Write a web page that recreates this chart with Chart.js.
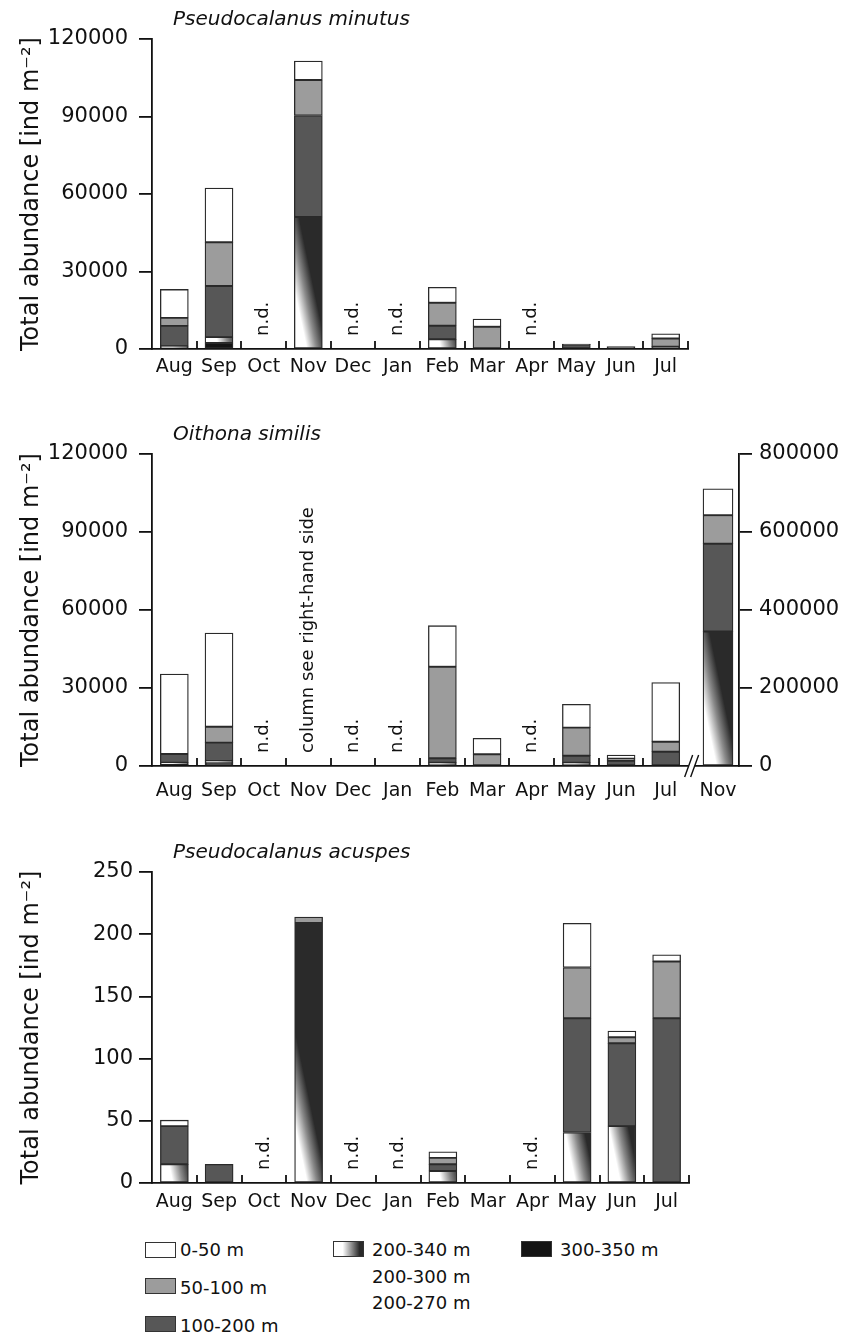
<!DOCTYPE html>
<html>
<head>
<meta charset="utf-8">
<script src="https://cdn.jsdelivr.net/npm/chart.js@4.4.0/dist/chart.umd.min.js"></script>
<style>
  body { margin: 0; background: #fff; width: 860px; height: 1335px; position: relative; overflow: hidden; font-family: "DejaVu Sans", sans-serif; color: #111; }
  .panel { position: absolute; left: 0; width: 860px; }
  .lg { position: absolute; font-size: 18px; line-height: 18px; white-space: nowrap; }
  .sw { position: absolute; width: 31px; height: 16px; box-sizing: border-box; border: 1px solid #333; }
</style>
</head>
<body>
<div class="panel" style="top:0;height:390px"><canvas id="minutus"></canvas></div>
<div class="panel" style="top:400px;height:400px"><canvas id="similis"></canvas></div>
<div class="panel" style="top:820px;height:400px"><canvas id="acuspes"></canvas></div>

<div class="sw" style="left:145px;top:1242px;background:#fff"></div>
<div class="lg" style="left:180px;top:1241px">0-50 m</div>
<div class="sw" style="left:145px;top:1278px;background:#9c9c9c"></div>
<div class="lg" style="left:180px;top:1279px">50-100 m</div>
<div class="sw" style="left:145px;top:1316px;background:#575757"></div>
<div class="lg" style="left:180px;top:1317px">100-200 m</div>
<div class="sw" style="left:333px;top:1241px;background:linear-gradient(to right,#fff 30%,#2a2a2a 88%)"></div>
<div class="lg" style="left:372px;top:1241px">200-340 m</div>
<div class="lg" style="left:372px;top:1268px">200-300 m</div>
<div class="lg" style="left:372px;top:1294px">200-270 m</div>
<div class="sw" style="left:521px;top:1241px;background:#141414"></div>
<div class="lg" style="left:560px;top:1241px">300-350 m</div>

<script>
const months = ['Aug', 'Sep', 'Oct', 'Nov', 'Dec', 'Jan', 'Feb', 'Mar', 'Apr', 'May', 'Jun', 'Jul'];
const ndMonths = ['Oct', 'Dec', 'Jan', 'Apr'];

// Pseudocalanus minutus, ind m-2 per depth layer (null = n.d.)
const minutus300_350 = [400, 2300, null, 0, null, null, 0, 0, null, 0, 0, 0];
const minutus200_340 = [700, 2300, null, 51100, null, null, 3750, 0, null, 0, 0, 0];
const minutus100_200 = [7850, 19800, null, 39300, null, null, 5250, 0, null, 1700, 900, 900];
const minutus50_100 = [3100, 16900, null, 13700, null, null, 8900, 8600, null, 200, 0, 3200];
const minutus0_50 = [11000, 21000, null, 7400, null, null, 6000, 3000, null, 0, 0, 1800];

// Oithona similis, left axis (Nov is drawn on the right-hand axis)
const similis300_350 = [500, 1200, null, null, null, null, 0, 0, null, 0, 0, 0];
const similis200_340 = [800, 800, null, null, null, null, 1270, 0, null, 1270, 0, 0];
const similis100_200 = [3300, 7000, null, null, null, null, 1700, 0, null, 2700, 2000, 5500];
const similis50_100 = [0, 6100, null, null, null, null, 35200, 4500, null, 10800, 800, 3850];
const similis0_50 = [30800, 36000, null, null, null, null, 15800, 6150, null, 8950, 1400, 22750];
// Oithona similis November, right axis, bottom layer first
const similisNov = [0, 344700, 225300, 73000, 68000];
const similisLabels = months.concat(['Nov']);

// Pseudocalanus acuspes
const acuspes300_350 = [0, 0, null, 0, null, null, 0, 0, null, 0, 0, 0];
const acuspes200_340 = [15, 0, null, 209, null, null, 9.7, 0, null, 40.6, 45.7, 0];
const acuspes100_200 = [30.7, 15, null, 0, null, null, 5.3, 0, null, 91.8, 66.6, 132.4];
const acuspes50_100 = [0, 0, null, 4.8, null, null, 5.2, 0, null, 40.8, 4.8, 45.6];
const acuspes0_50 = [4.8, 0, null, 0, null, null, 4.8, 0, null, 35.5, 5.1, 5.4];

const INK = '#111';
const EDGE = '#2a2a2a';
const FONT = '"DejaVu Sans"';
const NOV_SLOT = 12.17;   // where the extra November column sits on the similis x axis

// white → dark shading of the 200-340 m layer; isolines lean steeply (slope 4.8)
function depthShade(c) {
  const chart = c.chart;
  if (c.type !== 'data' || !chart.chartArea) return '#2a2a2a';
  const ds = chart.data.datasets[c.datasetIndex];
  const val = p => (p && typeof p === 'object') ? p.y : p;
  let base = 0;
  chart.data.datasets.forEach((d, k) => {
    if (k < c.datasetIndex && d.yAxisID === ds.yAxisID) base += val(d.data[c.dataIndex]) || 0;
  });
  const xv = (c.raw && typeof c.raw === 'object') ? c.raw.x : c.dataIndex;
  const w = ds.barThickness;
  const L = chart.scales.x.getPixelForValue(xv) - w / 2;
  const B = chart.scales[ds.yAxisID].getPixelForValue(base);
  const s = 4.8, n = Math.sqrt(s * s + 1);
  const k = s / n, gx = s / n, gy = -1 / n;
  const t0 = 0.45 * w * k, t1 = 1.15 * w * k;
  const g = chart.ctx.createLinearGradient(L + gx * t0, B + gy * t0, L + gx * t1, B + gy * t1);
  g.addColorStop(0, '#ffffff');
  g.addColorStop(0.5, '#8a8a8a');
  g.addColorStop(1, '#2a2a2a');
  return g;
}

const layerNames = ['300-350 m', '200-340 m', '100-200 m', '50-100 m', '0-50 m'];
const layerFills = ['#141414', depthShade, '#575757', '#9c9c9c', '#ffffff'];

function stackSets(series, yAxisID, toPoint, thickness) {
  return series.map((arr, k) => ({
    label: layerNames[k],
    data: arr.map(toPoint),
    yAxisID: yAxisID,
    backgroundColor: layerFills[k],
    borderColor: EDGE,
    borderWidth: 1.3,
    borderSkipped: false,
    barThickness: thickness,
    grouped: false
  }));
}

const panelDeco = {
  id: 'panelDeco',
  afterDraw(chart, args, o) {
    const {ctx, chartArea: a, scales: {x}} = chart;
    ctx.save();
    ctx.fillStyle = INK;
    ctx.strokeStyle = INK;
    ctx.font = 'italic 20px ' + FONT;
    ctx.textAlign = 'left';
    ctx.textBaseline = 'middle';
    ctx.fillText(o.title, 173, o.titleY);

    // short inward ticks between months
    ctx.lineWidth = 1.8;
    ctx.beginPath();
    for (let i = 0; i < o.tickCount; i++) {
      const px = Math.round(x.getPixelForValue(i + 0.5));
      ctx.moveTo(px, a.bottom);
      ctx.lineTo(px, a.bottom - 8);
    }
    ctx.stroke();

    ctx.font = '18px ' + FONT;
    const vertical = (text, px) => {
      ctx.save();
      ctx.translate(px, a.bottom - 13);
      ctx.rotate(-Math.PI / 2);
      ctx.fillText(text, 0, 0);
      ctx.restore();
    };
    ndMonths.forEach(m => vertical('n.d.', x.getPixelForValue(months.indexOf(m))));
    if (o.note) vertical(o.note, x.getPixelForValue(months.indexOf('Nov')));

    if (o.breakAt) {
      const bx = x.getPixelForValue(o.breakAt);
      ctx.fillStyle = '#fff';
      ctx.fillRect(bx - 3, a.bottom - 2, 6, 4);
      ctx.lineWidth = 1.4;
      ctx.beginPath();
      ctx.moveTo(bx - 7, a.bottom + 11); ctx.lineTo(bx + 1, a.bottom - 11);
      ctx.moveTo(bx - 1, a.bottom + 11); ctx.lineTo(bx + 7, a.bottom - 11);
      ctx.stroke();
    }
    ctx.restore();
  }
};

function valueAxis(max, step, pad, extra) {
  return Object.assign({
    stacked: true,
    min: 0, max: max,
    afterFit: s => { s.width = 152; },
    ticks: { stepSize: step, padding: pad, color: INK, font: { family: FONT, size: 21 }, callback: v => String(v) },
    grid: { drawOnChartArea: false, drawTicks: true, tickLength: 13, color: INK, lineWidth: 1.8 },
    border: { display: true, color: INK, width: 1.8 },
    title: { display: true, text: 'Total abundance [ind m⁻²]', color: INK, font: { family: FONT, size: 24 }, padding: { top: 17, bottom: 0 } }
  }, extra || {});
}

function monthAxis(height, pad, extra) {
  return Object.assign({
    stacked: true,
    afterFit: s => { s.height = height; },
    ticks: { padding: pad, color: INK, autoSkip: false, maxRotation: 0, font: { family: FONT, size: 19 } },
    grid: { display: false, drawTicks: false },
    border: { display: true, color: INK, width: 1.8 }
  }, extra || {});
}

const common = {
  responsive: true,
  maintainAspectRatio: false,
  animation: false,
  events: [],
  plugins: { legend: { display: false }, tooltip: { enabled: false } }
};

const byIndex = v => v;

new Chart(document.getElementById('minutus'), {
  type: 'bar',
  data: {
    labels: months,
    datasets: stackSets([minutus300_350, minutus200_340, minutus100_200, minutus50_100, minutus0_50], 'y', byIndex, 28)
  },
  options: Object.assign({}, common, {
    layout: { padding: { top: 39, right: 172, left: 0, bottom: 0 } },
    scales: { x: monthAxis(41, 7), y: valueAxis(120000, 30000, 11) },
    plugins: Object.assign({}, common.plugins, {
      panelDeco: { title: 'Pseudocalanus minutus', titleY: 20, tickCount: 12 }
    })
  }),
  plugins: [panelDeco]
});

new Chart(document.getElementById('similis'), {
  type: 'bar',
  data: {
    datasets: stackSets([similis300_350, similis200_340, similis100_200, similis50_100, similis0_50], 'y',
      (v, i) => ({ x: i, y: v }), 28)
      .concat(stackSets(similisNov.map(v => [v]), 'y2', v => ({ x: NOV_SLOT, y: v }), 30))
  },
  options: Object.assign({}, common, {
    layout: { padding: { top: 54, right: 0, left: 0, bottom: 0 } },
    scales: {
      x: monthAxis(34, 14, {
        type: 'linear', offset: false, min: -0.5, max: 12.64,
        afterBuildTicks: axis => { axis.ticks = months.map((m, i) => ({ value: i })).concat([{ value: NOV_SLOT }]); },
        ticks: { padding: 14, color: INK, autoSkip: false, maxRotation: 0, font: { family: FONT, size: 19 }, callback: (v, i) => similisLabels[i] }
      }),
      y: valueAxis(120000, 30000, 11),
      y2: {
        position: 'right', stacked: true, min: 0, max: 800000,
        afterFit: s => { s.width = 121; },
        ticks: { stepSize: 200000, padding: 7, color: INK, font: { family: FONT, size: 21 }, callback: v => String(v) },
        grid: { drawOnChartArea: false, drawTicks: true, tickLength: 13, color: INK, lineWidth: 1.8 },
        border: { display: true, color: INK, width: 1.8 }
      }
    },
    plugins: Object.assign({}, common.plugins, {
      panelDeco: { title: 'Oithona similis', titleY: 35, tickCount: 11, note: 'column see right-hand side', breakAt: 11.58 }
    })
  }),
  plugins: [panelDeco]
});

new Chart(document.getElementById('acuspes'), {
  type: 'bar',
  data: {
    labels: months,
    datasets: stackSets([acuspes300_350, acuspes200_340, acuspes100_200, acuspes50_100, acuspes0_50], 'y', byIndex, 28)
  },
  options: Object.assign({}, common, {
    layout: { padding: { top: 52, right: 171, left: 0, bottom: 0 } },
    scales: { x: monthAxis(37, 8), y: valueAxis(250, 50, 6) },
    plugins: Object.assign({}, common.plugins, {
      panelDeco: { title: 'Pseudocalanus acuspes', titleY: 33, tickCount: 12 }
    })
  }),
  plugins: [panelDeco]
});
</script>
</body>
</html>
